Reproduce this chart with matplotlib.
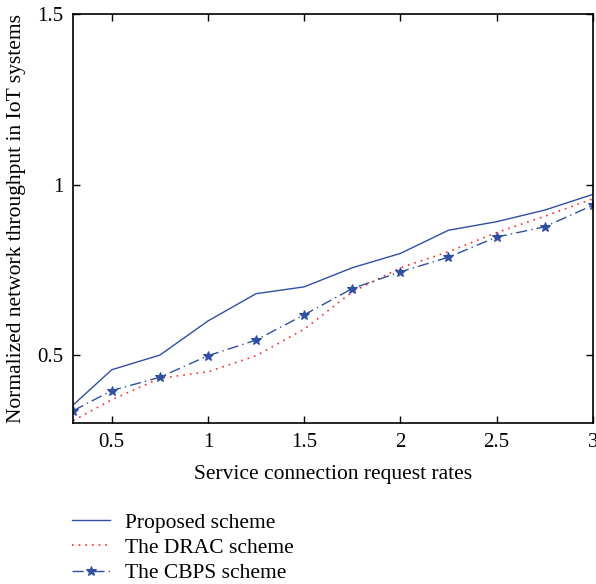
import matplotlib

matplotlib.use("Agg")
import matplotlib.pyplot as plt

# request rates on the x axis
rates = [0.3, 0.5, 0.75, 1.0, 1.25, 1.5, 1.75, 2.0, 2.25, 2.5, 2.75, 3.0]

proposed = [0.354, 0.457, 0.500, 0.600, 0.680, 0.700, 0.756, 0.798, 0.866, 0.891, 0.925, 0.971]
drac = [0.308, 0.369, 0.432, 0.451, 0.498, 0.576, 0.685, 0.756, 0.803, 0.859, 0.907, 0.958]
cbps = [0.337, 0.396, 0.435, 0.498, 0.544, 0.618, 0.695, 0.744, 0.787, 0.846, 0.876, 0.939]

labels = ["Proposed scheme", "The DRAC scheme", "The CBPS scheme"]
xticks = [0.5, 1, 1.5, 2, 2.5, 3]
yticks = [0.5, 1, 1.5]

plt.rcParams["font.family"] = ["Liberation Serif", "DejaVu Serif"]
plt.rcParams["font.size"] = 15

blue = "#2f4fa3"
red = "#ff2a2a"

fig = plt.figure(figsize=(5.96, 5.84), dpi=100)
ax = fig.add_axes([0.123, 0.2752, 0.8715, 0.7008])

ax.plot(rates, proposed, color=blue, linewidth=1.0, label=labels[0])
ax.plot(rates, drac, color=red, linewidth=1.2, linestyle=(0, (1, 3)), label=labels[1])
ax.plot(rates, cbps, color=blue, linewidth=1.0, linestyle=(0, (8, 3, 1, 3)),
        marker="*", markersize=7, markeredgewidth=0.8, label=labels[2])

ax.set_xlim(0.3, 3)
ax.set_ylim(0.3, 1.5)
ax.set_xticks(xticks)
ax.set_xticklabels(["0.5", "1", "1.5", "2", "2.5", "3"])
ax.set_yticks(yticks)
ax.set_yticklabels(["0.5", "1", "1.5"])
ax.tick_params(direction="in", top=True, right=True, length=5, width=1, pad=7,
               labelsize=15)
for spine in ax.spines.values():
    spine.set_linewidth(1.2)

ax.set_xlabel("Service connection request rates", fontsize=15.5, labelpad=9)
ax.set_ylabel("Normalized network throughput in IoT systems", fontsize=15.5, labelpad=8)

fig.legend(loc="upper left", bbox_to_anchor=(0.121, 0.1225), frameon=False,
           fontsize=15.5, handlelength=1.75, labelspacing=0.25, handletextpad=0.7,
           borderpad=0, borderaxespad=0)

fig.savefig("out.png", dpi=100)
